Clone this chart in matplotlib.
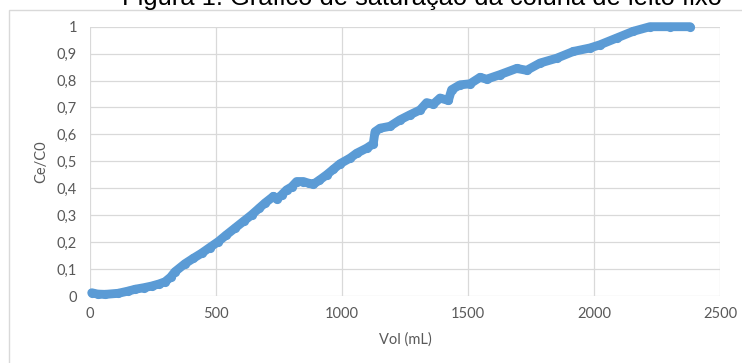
import matplotlib
matplotlib.use("Agg")
import matplotlib.pyplot as plt
from matplotlib.patches import Rectangle

title = "Figura 1: Gráfico de saturação da coluna de leito fixo"
x_label = "Vol (mL)"
y_label = "Ce/C0"

vol = [7, 30, 60, 112, 150, 179, 215, 245, 275, 298, 320, 337, 377, 410, 443,
       475, 509, 540, 575, 610, 641, 670, 694, 728, 741, 760, 780, 800, 820,
       847, 870, 886, 910, 939, 965, 992, 1032, 1058, 1098, 1124, 1131, 1151,
       1190, 1230, 1270, 1310, 1336, 1362, 1389, 1422, 1435, 1468, 1508, 1548,
       1574, 1627, 1693, 1733, 1786, 1852, 1918, 1984, 2024, 2090, 2156, 2222,
       2300, 2381]
ce = [0.012, 0.007, 0.006, 0.010, 0.018, 0.025, 0.031, 0.037, 0.045, 0.053,
      0.070, 0.090, 0.120, 0.140, 0.159, 0.180, 0.202, 0.226, 0.252, 0.278,
      0.301, 0.325, 0.345, 0.370, 0.360, 0.375, 0.394, 0.405, 0.425, 0.425,
      0.418, 0.415, 0.430, 0.450, 0.470, 0.491, 0.512, 0.530, 0.549, 0.565,
      0.610, 0.623, 0.630, 0.654, 0.673, 0.691, 0.718, 0.712, 0.735, 0.726,
      0.766, 0.784, 0.788, 0.812, 0.805, 0.822, 0.845, 0.838, 0.865, 0.883,
      0.908, 0.921, 0.933, 0.958, 0.983, 1.000, 1.000, 1.000]

x_ticks = [0, 500, 1000, 1500, 2000, 2500]
x_tick_labels = ["0", "500", "1000", "1500", "2000", "2500"]
y_ticks = [0, 0.1, 0.2, 0.3, 0.4, 0.5, 0.6, 0.7, 0.8, 0.9, 1.0]
y_tick_labels = ["0", "0,1", "0,2", "0,3", "0,4", "0,5", "0,6", "0,7", "0,8", "0,9", "1"]

W, H = 742, 363
fig = plt.figure(figsize=(W / 100, H / 100), dpi=100)
fig.patch.set_facecolor("white")

# chart border
fig.add_artist(Rectangle((9 / W, -0.1), 2.0, (H - 9.5) / H + 0.1,
                         transform=fig.transFigure, fill=False,
                         edgecolor="#d9d9d9", linewidth=1.0))

ax = fig.add_axes([90 / W, (H - 296) / H, 630 / W, (296 - 26.7) / H])
ax.set_xlim(0, 2500)
ax.set_ylim(0, 1)
ax.set_xticks(x_ticks)
ax.set_xticklabels(x_tick_labels)
ax.set_yticks(y_ticks)
ax.set_yticklabels(y_tick_labels)
for s in ax.spines.values():
    s.set_visible(False)
ax.grid(True, color="#d9d9d9", linewidth=0.9)
ax.set_axisbelow(True)
ax.tick_params(length=0, colors="#595959", labelsize=10.5)
ax.tick_params(axis="y", pad=9.5)
ax.tick_params(axis="x", pad=8)
for lab in ax.get_xticklabels() + ax.get_yticklabels():
    lab.set_family("Lato")

ax.plot(vol, ce, color="#5B9BD5", linewidth=6.4, solid_capstyle="round",
        solid_joinstyle="round", marker="o", markersize=6.6,
        markeredgewidth=0, clip_on=False, zorder=3)

fig.text(405 / W, 1 - 340 / H, x_label, ha="center", va="center",
         color="#595959", fontsize=10.5, family="Lato")
fig.text(41 / W, 1 - 162 / H, y_label, ha="center", va="center",
         rotation=90, color="#595959", fontsize=10.5, family="Lato")

fig.text(422 / W, 1 - 4.5 / H, title, ha="center", va="baseline",
         color="black", fontsize=18.4, family="Liberation Sans")

fig.savefig("out.png", dpi=100)
